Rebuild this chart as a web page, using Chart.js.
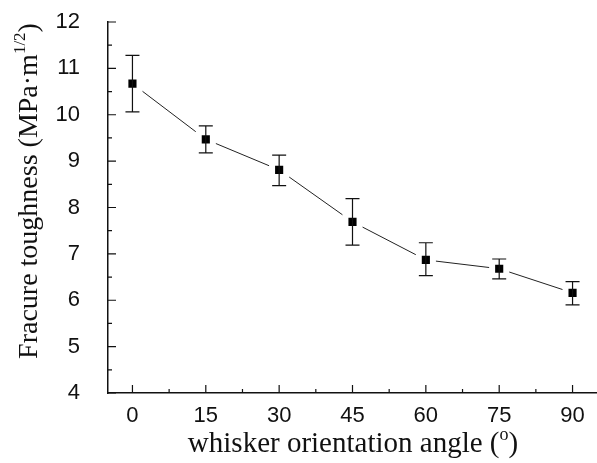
<!DOCTYPE html>
<html>
<head>
<meta charset="utf-8">
<script src="https://cdn.jsdelivr.net/npm/chart.js@4.4.0/dist/chart.umd.min.js"></script>
<style>
  body { margin: 0; background: #fff; }
  #wrap { width: 597px; height: 463px; }
</style>
</head>
<body>
<div id="wrap"><canvas id="toughness-chart"></canvas></div>
<script>
// values
const angles = [0, 15, 30, 45, 60, 75, 90];
const toughness = [10.67, 9.47, 8.81, 7.69, 6.87, 6.68, 6.16];
const errHigh = [11.28, 9.76, 9.13, 8.19, 7.24, 6.89, 6.40];
const errLow = [10.06, 9.18, 8.47, 7.19, 6.53, 6.46, 5.90];
const xTicks = [0, 15, 30, 45, 60, 75, 90];
const yTicks = [4, 5, 6, 7, 8, 9, 10, 11, 12];

const ink = '#111';

// inward major + minor ticks, like the original plot
const inwardTicks = {
    id: 'inwardTicks',
    afterDraw(chart) {
        const { ctx, chartArea, scales } = chart;
        ctx.save();
        ctx.strokeStyle = ink;
        ctx.lineWidth = 1.2;
        ctx.beginPath();
        xTicks.forEach((v, i) => {
            const px = scales.x.getPixelForValue(v);
            ctx.moveTo(px, chartArea.bottom);
            ctx.lineTo(px, chartArea.bottom - 8);
            if (i < xTicks.length - 1) {
                const mx = scales.x.getPixelForValue((v + xTicks[i + 1]) / 2);
                ctx.moveTo(mx, chartArea.bottom);
                ctx.lineTo(mx, chartArea.bottom - 4);
            }
        });
        yTicks.forEach((v, i) => {
            const py = scales.y.getPixelForValue(v);
            ctx.moveTo(chartArea.left, py);
            ctx.lineTo(chartArea.left + 8, py);
            if (i < yTicks.length - 1) {
                const my = scales.y.getPixelForValue((v + yTicks[i + 1]) / 2);
                ctx.moveTo(chartArea.left, my);
                ctx.lineTo(chartArea.left + 4, my);
            }
        });
        ctx.stroke();
        ctx.restore();
    }
};

// error bars with caps
const errorBars = {
    id: 'errorBars',
    afterDatasetsDraw(chart) {
        const { ctx, scales } = chart;
        ctx.save();
        ctx.strokeStyle = ink;
        ctx.lineWidth = 1.2;
        ctx.beginPath();
        angles.forEach((a, i) => {
            const px = scales.x.getPixelForValue(a);
            const top = scales.y.getPixelForValue(errHigh[i]);
            const bot = scales.y.getPixelForValue(errLow[i]);
            ctx.moveTo(px, top);
            ctx.lineTo(px, bot);
            ctx.moveTo(px - 7, top);
            ctx.lineTo(px + 7, top);
            ctx.moveTo(px - 7, bot);
            ctx.lineTo(px + 7, bot);
        });
        ctx.stroke();
        ctx.restore();
    }
};

// axis titles with superscripts
function drawSupText(ctx, parts, cx, baseline) {
    // parts: [text, font, rise]
    let total = 0;
    parts.forEach(p => { ctx.font = p[1]; total += ctx.measureText(p[0]).width; });
    let x = cx - total / 2;
    parts.forEach(p => {
        ctx.font = p[1];
        ctx.fillText(p[0], x, baseline - p[2]);
        x += ctx.measureText(p[0]).width;
    });
}

const axisTitles = {
    id: 'axisTitles',
    afterDraw(chart) {
        const { ctx } = chart;
        const serif = '"Liberation Serif", "Times New Roman", serif';
        ctx.save();
        ctx.fillStyle = ink;
        ctx.textBaseline = 'alphabetic';

        drawSupText(ctx, [
            ['whisker orientation angle (', '29px ' + serif, 0],
            ['o', '18px ' + serif, 12],
            [')', '29px ' + serif, 0]
        ], 353, 452);

        ctx.translate(37, 191);
        ctx.rotate(-Math.PI / 2);
        drawSupText(ctx, [
            ['Fracure toughness (MPa·m', '28px ' + serif, 0],
            ['1/2', '17px ' + serif, 12],
            [')', '28px ' + serif, 0]
        ], 0, 0);
        ctx.restore();
    }
};

new Chart(document.getElementById('toughness-chart'), {
    type: 'line',
    data: {
        datasets: [{
            data: angles.map((a, i) => ({ x: a, y: toughness[i] })),
            borderColor: '#222',
            borderWidth: 1,
            pointStyle: 'rect',
            pointRadius: 10,
            pointBackgroundColor: '#000',
            pointBorderColor: '#fff',
            pointBorderWidth: 6,
            tension: 0
        }]
    },
    options: {
        responsive: true,
        maintainAspectRatio: false,
        animation: false,
        events: [],
        layout: { autoPadding: false, padding: { top: 22, right: 0, left: 0, bottom: 0 } },
        plugins: {
            legend: { display: false },
            tooltip: { enabled: false }
        },
        scales: {
            x: {
                type: 'linear',
                min: -5,
                max: 95,
                afterBuildTicks(scale) {
                    scale.ticks = xTicks.map(v => ({ value: v }));
                },
                afterFit(scale) {
                    scale.height = 70;
                    scale.paddingLeft = 0;
                    scale.paddingRight = 0;
                },
                grid: { display: false, drawTicks: false },
                border: { color: ink, width: 1.5 },
                ticks: {
                    color: ink,
                    padding: 10,
                    font: { family: '"Liberation Sans", Arial, sans-serif', size: 22 }
                }
            },
            y: {
                min: 4,
                max: 12,
                afterBuildTicks(scale) {
                    scale.ticks = yTicks.map(v => ({ value: v }));
                },
                afterFit(scale) {
                    scale.width = 108;
                    scale.paddingTop = 0;
                    scale.paddingBottom = 0;
                },
                grid: { display: false, drawTicks: false },
                border: { color: ink, width: 1.5 },
                ticks: {
                    color: ink,
                    padding: 28,
                    font: { family: '"Liberation Sans", Arial, sans-serif', size: 22 }
                }
            }
        }
    },
    plugins: [inwardTicks, errorBars, axisTitles]
});
</script>
</body>
</html>
